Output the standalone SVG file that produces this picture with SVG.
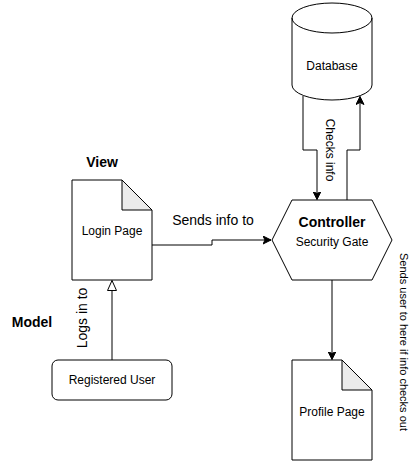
<svg xmlns="http://www.w3.org/2000/svg" width="417" height="461" viewBox="0 0 417 461">
<style>
.s{fill:#fff;stroke:#000;stroke-width:1}
.f{fill:#ebebeb;stroke:#000;stroke-width:1;stroke-linejoin:round}
.l{fill:none;stroke:#000;stroke-width:1}
text{font-family:"Liberation Sans",Arial,sans-serif;fill:#000;text-anchor:middle}
.t12{font-size:12px}
.t11{font-size:11px}
.t14{font-size:14px}
.b{font-weight:bold}
</style>
<defs>
<marker id="arr" markerWidth="10" markerHeight="10" refX="8" refY="4" orient="auto" markerUnits="userSpaceOnUse">
<path d="M0,0 L8,4 L0,8 L2,4 Z" fill="#000" stroke="#000" stroke-width="1"/>
</marker>
<marker id="tri" markerWidth="12" markerHeight="12" refX="10" refY="5" orient="auto" markerUnits="userSpaceOnUse">
<path d="M0,0.5 L10,5 L0,9.5 Z" fill="#fff" stroke="#000" stroke-width="1"/>
</marker>
</defs>
<rect width="417" height="461" fill="#fff"/>
<g id="connectors">
<path class="l" d="M152,245 H212 V240 H271" marker-end="url(#arr)"/>
<path class="l" d="M112,360 V280.5" marker-end="url(#tri)"/>
<path class="l" d="M303,96 V150 H317 V199.5" marker-end="url(#arr)"/>
<path class="l" d="M347,200 V150 H360 V96.5" marker-end="url(#arr)"/>
<path class="l" d="M332,280 V359.5" marker-end="url(#arr)"/>
</g>
<g id="database">
<path class="s" d="M292,18 A40,15 0 0 1 372,18 L372,85 A40,15 0 0 1 292,85 Z"/>
<path class="l" d="M292,18 A40,15 0 0 0 372,18"/>
<text class="t12" x="332" y="70">Database</text>
</g>
<g id="login-page">
<path class="s" d="M72,180 H122 L152,210 V280 H72 Z"/>
<path class="f" d="M122,180 V210 H152 Z"/>
<text class="t12" x="112" y="235">Login Page</text>
</g>
<g id="controller">
<polygon class="s" points="292,200 372,200 392,240 372,280 292,280 272,240"/>
<text class="t14 b" x="332" y="227">Controller</text>
<text class="t12" x="332" y="246">Security Gate</text>
</g>
<g id="profile-page">
<path class="s" d="M292,360 H342 L372,390 V460 H292 Z"/>
<path class="f" d="M342,360 V390 H372 Z"/>
<text class="t12" x="332" y="416">Profile Page</text>
</g>
<g id="registered-user">
<rect class="s" x="52" y="360" width="120" height="40" rx="6" ry="6"/>
<text class="t12" x="112" y="384">Registered User</text>
</g>
<g id="labels">
<text class="t14 b" x="102" y="167">View</text>
<text class="t14 b" x="32" y="327">Model</text>
<text class="t14" x="213" y="225">Sends info to</text>
<text class="t12" transform="translate(330,150) rotate(90)" y="4">Checks info</text>
<text class="t11" transform="translate(404,342) rotate(90)" y="4">Sends user to here if info checks out</text>
<text class="t14" transform="translate(82,318) rotate(-90)" y="5">Logs in to</text>
</g>
</svg>
